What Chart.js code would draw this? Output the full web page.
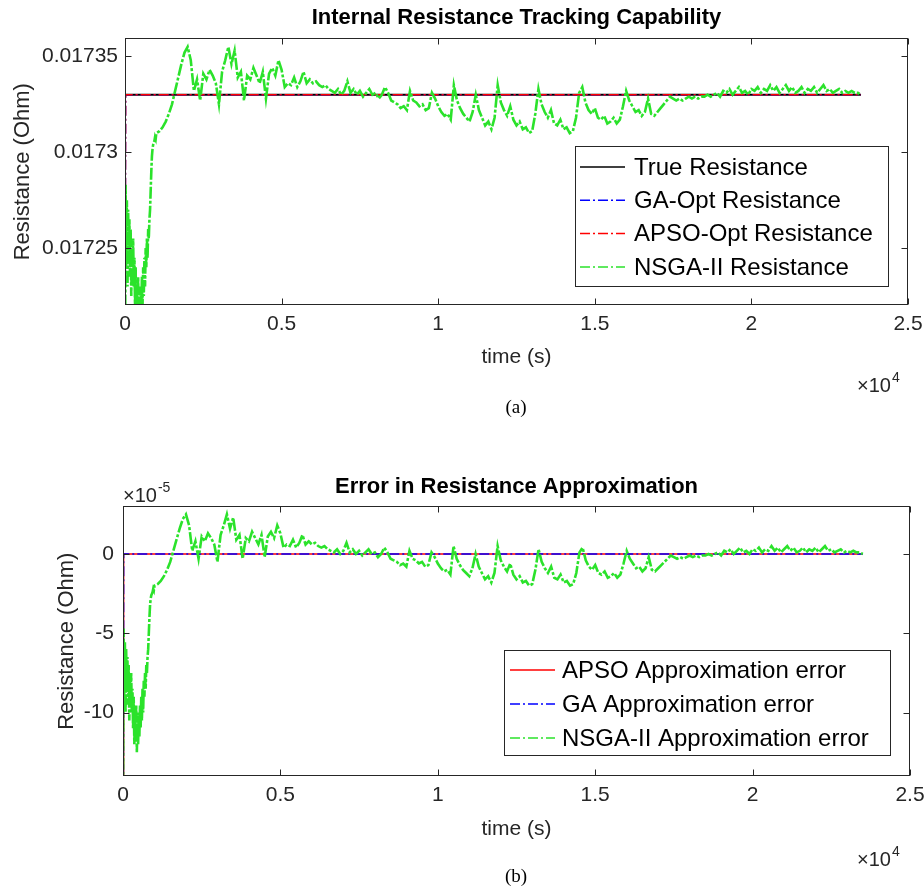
<!DOCTYPE html>
<html>
<head>
<meta charset="utf-8">
<script src="https://cdn.jsdelivr.net/npm/chart.js@4.4.1/dist/chart.umd.min.js"></script>
<style>
  html, body { margin: 0; padding: 0; background: #fff; }
  #wrap { position: relative; width: 924px; height: 892px; }
  canvas { position: absolute; left: 0; }
</style>
</head>
<body>
<div id="wrap">
  <canvas id="chartA" width="924" height="440" style="top:0"></canvas>
  <canvas id="chartB" width="924" height="442" style="top:450px"></canvas>
</div>
<script>
// ---- data ----
const R_TRUE = 0.01733;              // true internal resistance (Ohm)

// NSGA-II error trace, units of 1e-5 Ohm
// dense part: 0..1000 s
const tEarly = [0, 20, 40, 60, 80, 100, 120, 140, 160, 180, 200, 220, 240, 260, 280, 300,
  320, 340, 360, 380, 400, 420, 440, 460, 480, 500, 520, 540, 560, 580, 600, 620, 640, 660,
  680, 700, 720, 740, 760, 780, 800, 820, 840, 860, 880, 900, 920, 940, 960, 980, 1000];
const errEarly = [-16, -4.7, -9, -5.5, -10, -6, -8.5, -6.5, -9.5, -7, -10.5, -8, -9, -7.5, -10, -8.5,
  -11, -9, -12, -10, -11.5, -9.5, -12.5, -10.5, -12, -10, -11.5, -9.5, -11, -9, -10.5, -8.5, -10, -8,
  -9, -7.5, -8.5, -7, -7.5, -6.5, -6, -5, -4, -3.2, -2.8, -2.6, -2.5, -2.4, -2.2, -2.3, -2.0];
// rest: every 100 s from 1100 s to 23500 s
const LATE_T0 = 1100, LATE_DT = 100;
const errLate = [
  -1.9, -1.7, -1.4, -1.0, -0.5, 0.2, 0.9, 1.6, 2.2, 2.5,
  1.8, 0.2, 0.8, -0.3, 1.1, 0.8, 1.3, 1.0, 0.6, -0.5,
  1.2, 1.8, 2.5, 1.6, 2.3, 0.9, 1.2, -0.3, 1.0, 0.8,
  1.4, 1.0, 0.6, 1.2, -0.2, 1.1, 1.4, 1.0, 1.8, 1.3,
  0.4, 0.6, 0.5, 0.9, 0.4, 0.7, 1.2, 0.6, 0.8, 0.6,
  0.7, 0.5, 0.4, 0.5, 0.3, 0.2, 0.1, 0.3, 0.0, 0.2,
  0.7, 0.1, 0.3, 0.0, 0.2, -0.1, 0.1, 0.3, 0.0, 0.1,
  -0.2, 0.0, 0.4, 0.1, -0.3, -0.4, -0.5, -0.7, -0.6, -0.8,
  0.2, -0.3, -0.4, -0.6, -0.5, -0.8, -0.7, 0.1, -0.2, -0.6,
  -0.9, -1.1, -1.0, -1.3, 0.5, -0.3, -0.7, -1.0, -1.2, -1.4,
  -0.9, 0.0, -0.8, -1.2, -1.6, -1.4, -1.8, -1.2, 0.5, -0.4,
  -0.8, -1.1, -0.6, -1.3, -1.6, -1.4, -1.8, -1.7, -2.0, -1.9,
  -1.0, 0.3, -0.5, -0.9, -1.2, -0.8, -1.5, -1.6, -1.3, -1.8,
  -1.7, -2.0, -1.9, -1.2, 0.1, 0.4, -0.4, -0.8, -1.0, -0.7,
  -1.2, -1.3, -1.1, -1.5, -1.4, -1.2, -1.5, -1.3, -0.6, 0.2,
  -0.3, -0.6, -0.9, -0.8, -1.1, -0.9, -0.2, -1.0, -1.1, -0.9,
  -0.7, -0.5, -0.3, -0.1, -0.2, -0.3, -0.2, -0.3, -0.2, -0.1,
  -0.2, -0.1, -0.2, -0.1, -0.1, 0.0, -0.1, 0.0, 0.1, -0.1,
  0.2, 0.1, 0.3, 0.0, 0.2, 0.4, 0.1, 0.2, 0.0, 0.3,
  0.2, 0.4, 0.1, 0.3, 0.2, 0.5, 0.2, 0.4, 0.1, 0.3,
  0.5, 0.2, 0.4, 0.1, 0.2, 0.4, 0.1, 0.3, 0.2, 0.4,
  0.1, 0.3, 0.5, 0.2, 0.3, 0.1, 0.2, 0.3, 0.1, 0.2,
  0.1, 0.2, 0.1, 0.1, 0.0
];

// true / GA / APSO traces (jump to the true value right after t = 0)
const trueT = [0, 23500];
const trueRes = [R_TRUE, R_TRUE];
const optT = [0, 20, 23500];
const gaRes = [0.01715, R_TRUE, R_TRUE];
const apsoRes = [0.01715, R_TRUE, R_TRUE];
const gaErr = [-40, 0, 0];
const apsoErr = [-40, 0, 0];

// ticks
const timeTicks = [0, 5000, 10000, 15000, 20000, 25000];
const timeTickLabels = ['0', '0.5', '1', '1.5', '2', '2.5'];
const resTicks = [0.01725, 0.0173, 0.01735];
const resTickLabels = ['0.01725', '0.0173', '0.01735'];
const errTicks = [-10, -5, 0];
const errTickLabels = ['-10', '-5', '0'];

// ---- build point lists ----
const pts = (xs, ys) => xs.map((x, i) => ({ x: x, y: ys[i] }));
const nsgaErrPts = pts(tEarly, errEarly).concat(errLate.map((e, i) => ({ x: LATE_T0 + i * LATE_DT, y: e })));
const nsgaResPts = nsgaErrPts.map(p => ({ x: p.x, y: R_TRUE + p.y * 1e-5 }));

const FONT = '"Liberation Sans", Arial, Helvetica, sans-serif';
const TXT = '#262626';
const GREEN = '#2be22b';
const DASHDOT = [10, 3, 2, 3];
const GREEN_DASH = [12, 2, 3, 2];

// box with inward ticks on all four sides, like MATLAB's "box on"
const matlabBox = {
  id: 'matlabBox',
  afterDatasetsDraw(chart) {
    const { ctx, chartArea: a, scales: { x, y } } = chart;
    const L = Math.round(a.left) + 0.5, R = Math.round(a.right) - 0.5;
    const T = Math.round(a.top) + 0.5, B = Math.round(a.bottom) - 0.5;
    const tl = 6;
    ctx.save();
    ctx.strokeStyle = TXT;
    ctx.lineWidth = 1;
    ctx.setLineDash([]);
    ctx.strokeRect(L, T, R - L, B - T);
    ctx.beginPath();
    x.ticks.forEach(t => {
      const px = Math.round(x.getPixelForValue(t.value)) + 0.5;
      ctx.moveTo(px, B); ctx.lineTo(px, B - tl);
      ctx.moveTo(px, T); ctx.lineTo(px, T + tl);
    });
    y.ticks.forEach(t => {
      const py = Math.round(y.getPixelForValue(t.value)) + 0.5;
      ctx.moveTo(L, py); ctx.lineTo(L + tl, py);
      ctx.moveTo(R, py); ctx.lineTo(R - tl, py);
    });
    ctx.stroke();
    ctx.restore();
  }
};

// boxed legend inside the axes + exponent notes + caption
const extras = {
  id: 'extras',
  afterDraw(chart, args, opts) {
    const { ctx } = chart;
    ctx.save();
    const lg = opts.legend;
    if (lg) {
      ctx.fillStyle = '#fff';
      ctx.fillRect(lg.x1, lg.y1, lg.x2 - lg.x1, lg.y2 - lg.y1);
      ctx.strokeStyle = TXT;
      ctx.lineWidth = 1;
      ctx.strokeRect(lg.x1 + 0.5, lg.y1 + 0.5, lg.x2 - lg.x1, lg.y2 - lg.y1);
      ctx.font = lg.fontSize + 'px ' + FONT;
      ctx.textBaseline = 'middle';
      ctx.textAlign = 'left';
      chart.data.datasets.forEach((ds, i) => {
        const ry = lg.rowY0 + i * lg.rowGap;
        ctx.strokeStyle = ds.borderColor;
        ctx.lineWidth = 1.5;
        ctx.setLineDash(ds.borderDash && ds.borderDash.length ? DASHDOT : []);
        ctx.beginPath();
        ctx.moveTo(lg.lineX1, ry); ctx.lineTo(lg.lineX2, ry);
        ctx.stroke();
        ctx.setLineDash([]);
        ctx.fillStyle = '#000';
        ctx.fillText(ds.label, lg.textX, ry + 1);
      });
    }
    (opts.expo || []).forEach(e => {
      ctx.fillStyle = TXT;
      ctx.textBaseline = 'alphabetic';
      ctx.textAlign = 'left';
      ctx.font = '20px ' + FONT;
      ctx.fillText('\u00d710', e.x, e.y);
      const w = ctx.measureText('\u00d710').width;
      ctx.font = '14px ' + FONT;
      ctx.fillText(e.sup, e.x + w + 1, e.y - 10);
    });
    if (opts.caption) {
      ctx.fillStyle = '#000';
      ctx.font = '19px "Liberation Serif", "Times New Roman", serif';
      ctx.textAlign = 'center';
      ctx.textBaseline = 'middle';
      ctx.fillText(opts.caption.text, opts.caption.x, opts.caption.y);
    }
    ctx.restore();
  }
};

function xAxis(height, titlePadBottom) {
  return {
    type: 'linear', min: 0, max: 25000,
    afterBuildTicks: s => { s.ticks = timeTicks.map(v => ({ value: v })); },
    afterFit: s => { s.height = height; s.paddingLeft = 0; s.paddingRight = 0; },
    grid: { display: false, drawTicks: false },
    border: { display: false },
    ticks: {
      padding: 7, color: TXT, maxRotation: 0, autoSkip: false,
      font: { family: FONT, size: 21 },
      callback: v => timeTickLabels[timeTicks.indexOf(v)]
    },
    title: {
      display: true, text: 'time (s)', color: TXT,
      font: { family: FONT, size: 21 },
      padding: { top: 0, bottom: titlePadBottom }
    }
  };
}

function yAxis(min, max, ticks, labels, width, tickPad, titlePad) {
  return {
    type: 'linear', min: min, max: max,
    afterBuildTicks: s => { s.ticks = ticks.map(v => ({ value: v })); },
    afterFit: s => { s.width = width; s.paddingTop = 0; s.paddingBottom = 0; },
    grid: { display: false, drawTicks: false },
    border: { display: false },
    ticks: {
      padding: tickPad, color: TXT, autoSkip: false,
      font: { family: FONT, size: 21 },
      callback: v => labels[ticks.indexOf(v)]
    },
    title: {
      display: true, text: 'Resistance (Ohm)', color: TXT,
      font: { family: FONT, size: 22 },
      padding: { top: titlePad, bottom: 0 }
    }
  };
}

function lineDs(label, data, color, dash, order, width) {
  return {
    label: label, data: data, borderColor: color, backgroundColor: color,
    borderWidth: width || 1.5, borderDash: dash, pointRadius: 0, tension: 0, fill: false, order: order
  };
}

new Chart(document.getElementById('chartA'), {
  type: 'line',
  data: {
    datasets: [
      lineDs('True Resistance', pts(trueT, trueRes), '#000000', [], 4, 1.8),
      lineDs('GA-Opt Resistance', pts(optT, gaRes), '#0000ff', DASHDOT, 3),
      lineDs('APSO-Opt Resistance', pts(optT, apsoRes), '#ff0000', DASHDOT, 2),
      lineDs('NSGA-II Resistance', nsgaResPts, GREEN, GREEN_DASH, 1, 2.6)
    ]
  },
  options: {
    responsive: false, animation: false, events: [],
    layout: { padding: { top: 0, right: 16, bottom: 0, left: 0 } },
    scales: {
      x: xAxis(135, 70),
      y: yAxis(0.0172203, 0.0173594, resTicks, resTickLabels, 125, 7, 10)
    },
    plugins: {
      legend: { display: false },
      tooltip: { enabled: false },
      title: {
        display: true, fullSize: false, text: 'Internal Resistance Tracking Capability', color: '#000',
        font: { family: FONT, size: 22, weight: 'bold' },
        padding: { top: 5, bottom: 7 }
      },
      extras: {
        legend: { x1: 575, y1: 146, x2: 888, y2: 286, rowY0: 167, rowGap: 33.3,
                  lineX1: 580, lineX2: 625, textX: 634, fontSize: 24 },
        expo: [{ x: 857, y: 392, sup: '4' }],
        caption: { text: '(a)', x: 516, y: 408 }
      }
    }
  },
  plugins: [matlabBox, extras]
});

new Chart(document.getElementById('chartB'), {
  type: 'line',
  data: {
    datasets: [
      lineDs('APSO Approximation error', pts(optT, apsoErr), '#ff0000', [], 3),
      lineDs('GA Approximation error', pts(optT, gaErr), '#0000ff', DASHDOT, 2),
      lineDs('NSGA-II Approximation error', nsgaErrPts, GREEN, GREEN_DASH, 1, 2.6)
    ]
  },
  options: {
    responsive: false, animation: false, events: [],
    layout: { padding: { top: 19, right: 14, bottom: 0, left: 0 } },
    scales: {
      x: xAxis(116, 50),
      y: yAxis(-14, 3, errTicks, errTickLabels, 123, 9, 54)
    },
    plugins: {
      legend: { display: false },
      tooltip: { enabled: false },
      title: {
        display: true, fullSize: false, text: 'Error in Resistance Approximation', color: '#000',
        font: { family: FONT, size: 22, weight: 'bold' },
        padding: { top: 5, bottom: 6 }
      },
      extras: {
        legend: { x1: 504, y1: 200, x2: 890, y2: 305, rowY0: 220, rowGap: 34,
                  lineX1: 510, lineX2: 555, textX: 562, fontSize: 24 },
        expo: [{ x: 123, y: 52, sup: '-5' }, { x: 857, y: 416, sup: '4' }],
        caption: { text: '(b)', x: 516, y: 427 }
      }
    }
  },
  plugins: [matlabBox, extras]
});
</script>
</body>
</html>
